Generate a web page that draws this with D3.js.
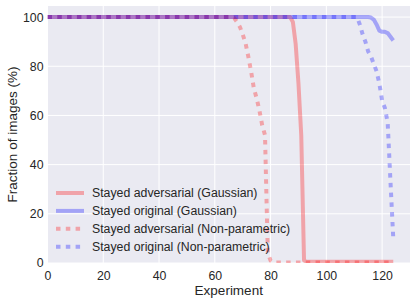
<!DOCTYPE html>
<html><head><meta charset="utf-8">
<script src="https://cdn.jsdelivr.net/npm/d3@7"></script>
<style>body{margin:0;background:#fff}svg{display:block}text{font-family:"Liberation Sans",Arial,sans-serif;fill:#262626}</style>
</head><body><svg id="c" width="416" height="303"></svg>
<script>
const xTicks=[0,20,40,60,80,100,120];
const yTicks=[0,20,40,60,80,100];
const seriesNames=["Stayed adversarial (Gaussian)","Stayed original (Gaussian)","Stayed adversarial (Non-parametric)","Stayed original (Non-parametric)"];
// [experiment, value] pairs at the points where each curve changes
const advGauss=[[0,100],[87,100],[88,98],[89,89],[90,73],[91,52],[92,1],[93,0.5],[124,0.5]];
const origGauss=[[0,100],[115,100],[116,99.8],[117,99],[118,97],[119,94.5],[120,94],[121,94],[122,93.5],[123,92],[124,90.5]];
const advNP=[[0,100],[66,100],[67,99.5],[68,98],[69,96],[70,93],[71,89.5],[72,84],[73,78],[74,71],[75,67],[76,62],[77,56],[78,52],[79,4],[80,1],[81,0.2],[124,0.2]];
const origNP=[[0,100],[111,100],[112,97],[113,93],[114,90],[115,86],[116,84],[117,81],[118,78],[119,73],[120,66],[121,63],[122,57],[123,33],[124,10]];

const svg=d3.select("#c");
const L=47.5,R=410,T=6,B=263;
const x=d3.scaleLinear().domain([0,130]).range([L,R]);
const y=d3.scaleLinear().domain([0,104.5]).range([B,T]);
svg.append("rect").attr("x",L).attr("y",T).attr("width",R-L).attr("height",B-T).attr("fill","#eaeaf2");
const g=svg.append("g");
g.selectAll(".gx").data(xTicks).join("line").attr("x1",d=>x(d)).attr("x2",d=>x(d)).attr("y1",T).attr("y2",B).attr("stroke","#fff").attr("stroke-width",1);
g.selectAll(".gy").data(yTicks).join("line").attr("y1",d=>y(d)).attr("y2",d=>y(d)).attr("x1",L).attr("x2",R).attr("stroke","#fff").attr("stroke-width",1);

const xa=svg.append("g").attr("transform",`translate(0,${B})`).call(d3.axisBottom(x).tickValues(xTicks).tickSize(0).tickPadding(8));
const ya=svg.append("g").attr("transform",`translate(${L},0)`).call(d3.axisLeft(y).tickValues(yTicks).tickSize(0).tickPadding(4));
[xa,ya].forEach(a=>{a.select(".domain").remove();a.selectAll("text").style("font-size","12.3px").attr("fill","#262626").style("font-family","'Liberation Sans',Arial,sans-serif");});

const line=d3.line().x(d=>x(d[0])).y(d=>y(d[1]));
const red="rgba(255,0,0,0.3)",blue="rgba(0,0,255,0.3)";
const styles=[{c:red,dash:null},{c:blue,dash:null},{c:red,dash:"4.5,5.3"},{c:blue,dash:"4.5,5.3"}];
const data=[advGauss,origGauss,advNP,origNP];
svg.append("clipPath").attr("id","cp").append("rect").attr("x",L).attr("y",T).attr("width",R-L).attr("height",B-T);
data.forEach((d,i)=>{
  svg.append("path").attr("d",line(d)).attr("fill","none").attr("stroke",styles[i].c).attr("stroke-width",4)
   .attr("stroke-dasharray",styles[i].dash).attr("stroke-linejoin","round").attr("clip-path","url(#cp)");
});

const lg=svg.append("g");
seriesNames.forEach((n,i)=>{
  const yy=193+i*17.9;
  lg.append("line").attr("x1",56).attr("x2",84).attr("y1",yy).attr("y2",yy).attr("stroke",styles[i].c).attr("stroke-width",4).attr("stroke-dasharray",styles[i].dash);
  lg.append("text").attr("x",92).attr("y",yy+4.4).style("font-size","12.3px").text(n);
});

svg.append("text").attr("x",(L+R)/2).attr("y",295).attr("text-anchor","middle").style("font-size","13.5px").text("Experiment");
svg.append("text").attr("transform",`translate(17,${(T+B)/2}) rotate(-90)`).attr("text-anchor","middle").style("font-size","13.5px").text("Fraction of images (%)");
</script></body></html>
